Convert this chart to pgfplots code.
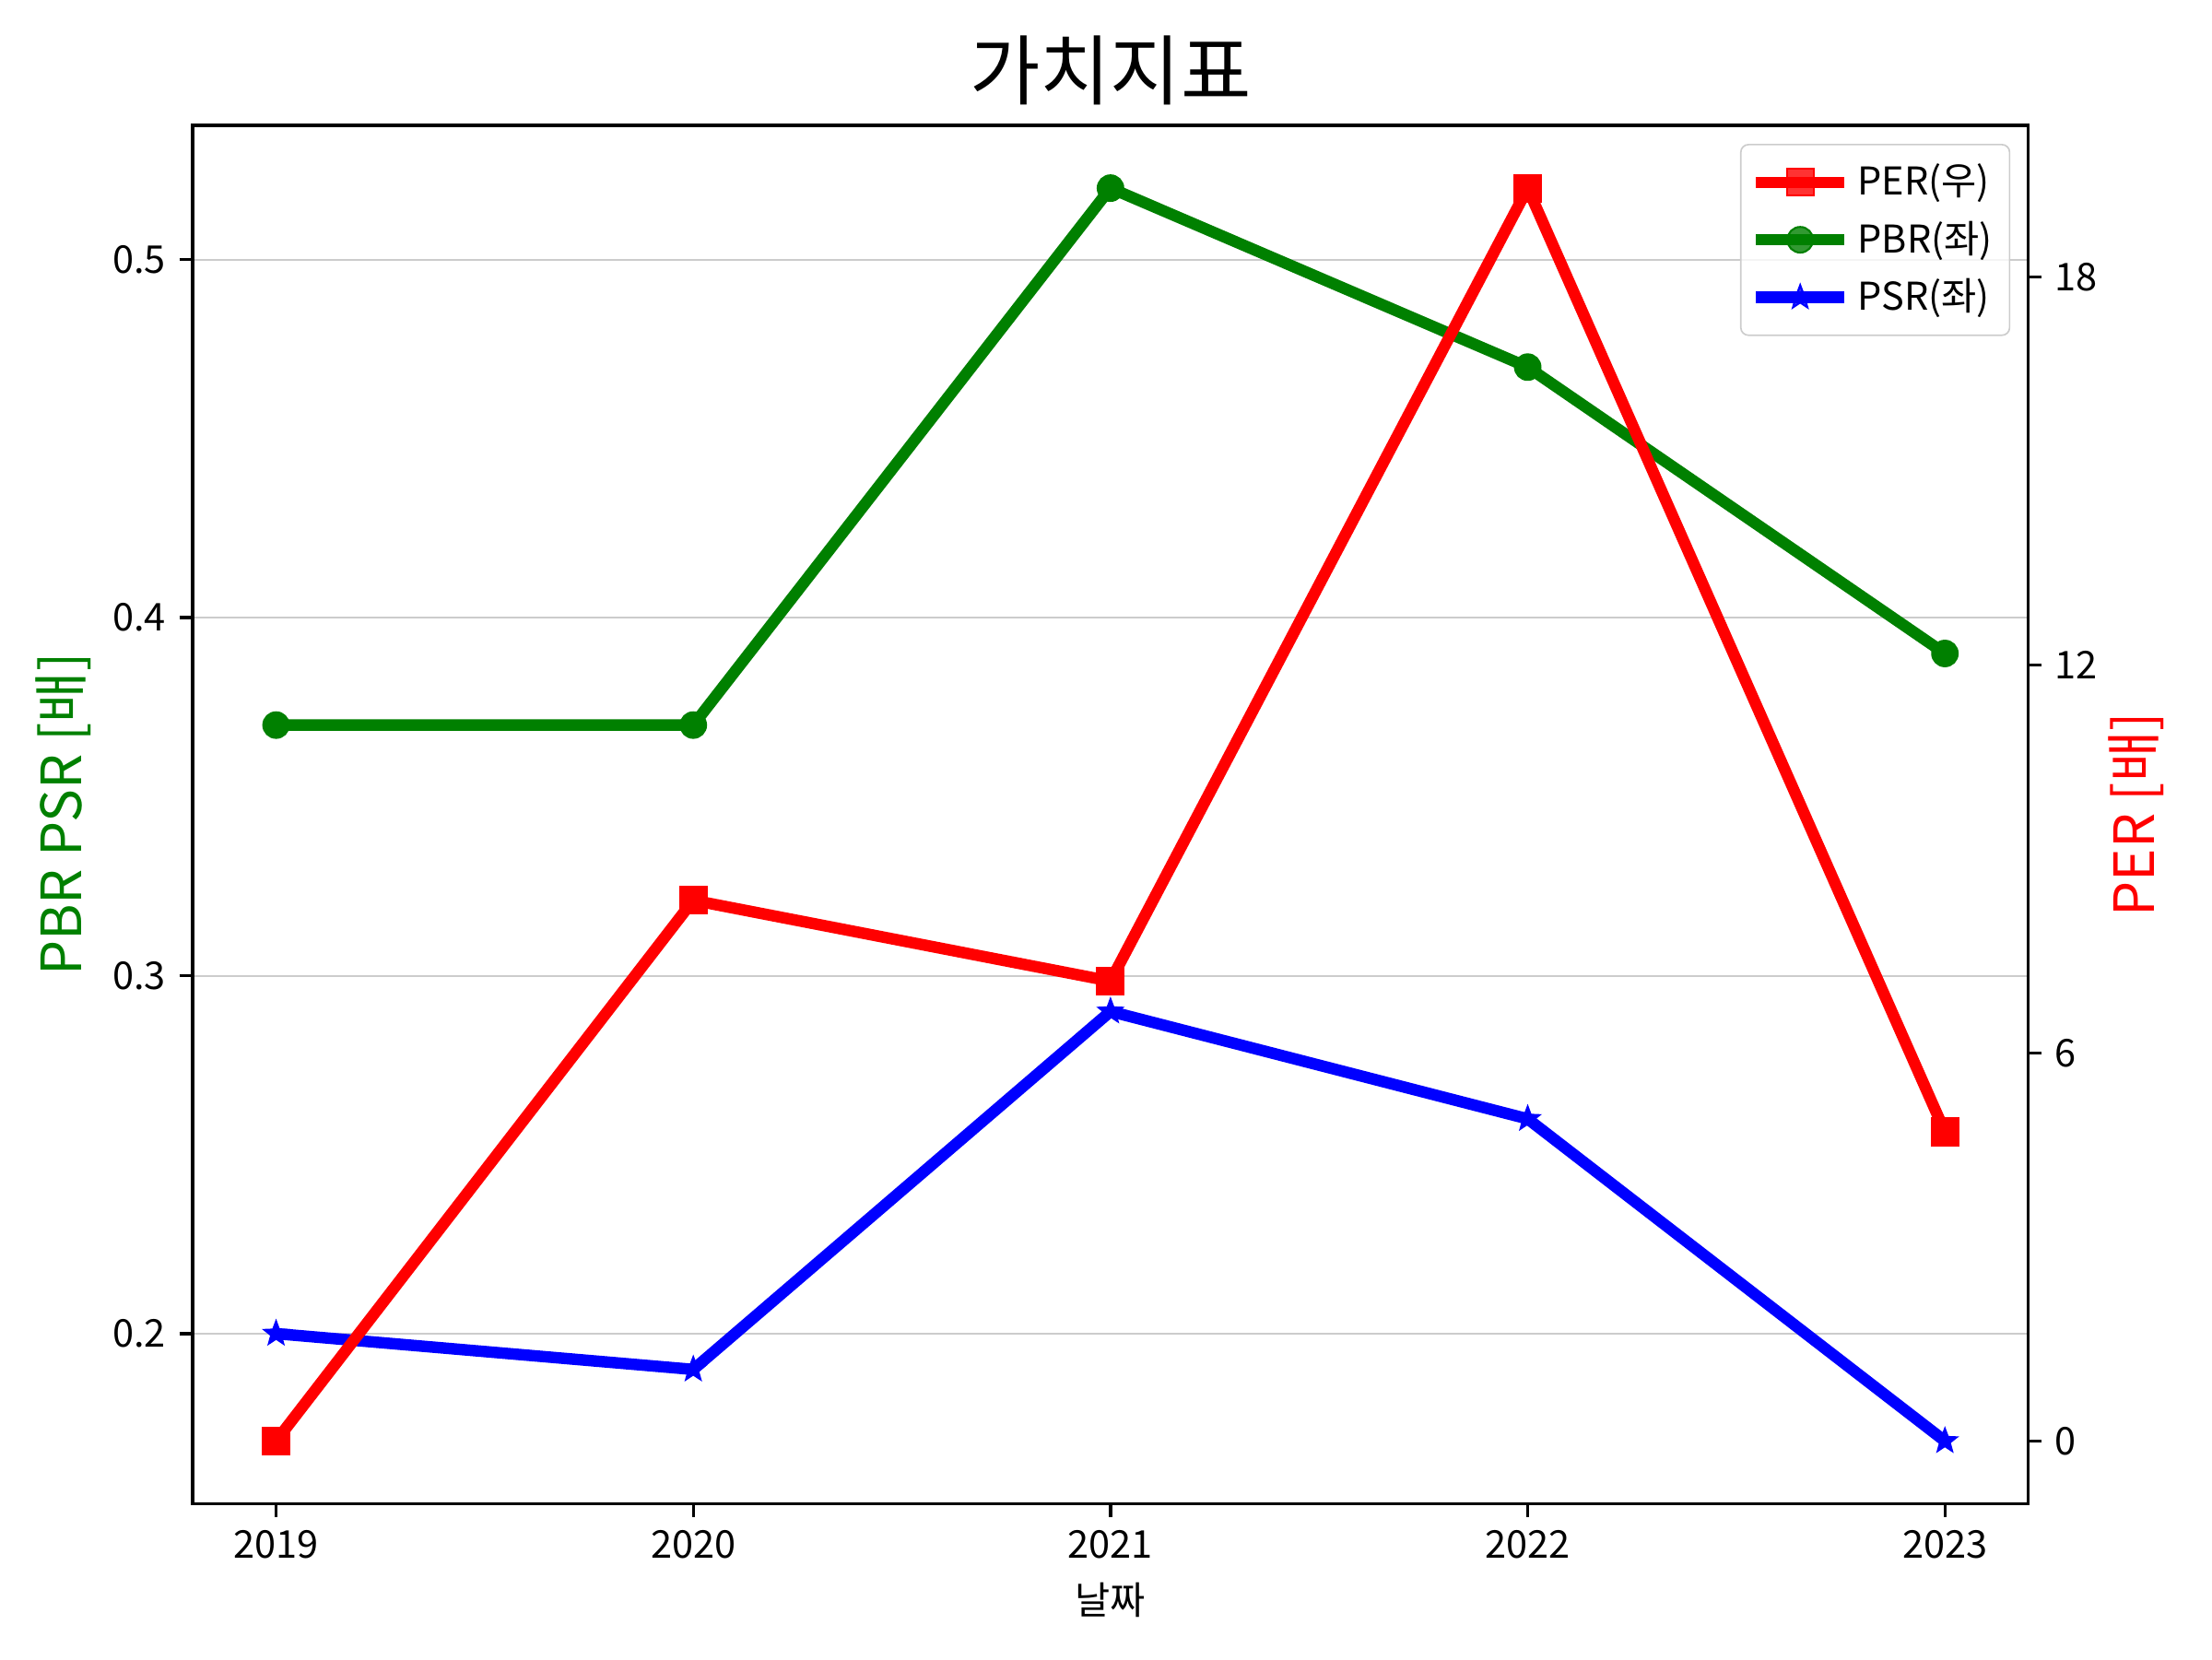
\documentclass[border=0pt]{standalone}
\usepackage{fontspec}
\setmainfont{Noto Sans CJK KR}
\usepackage{pgfplots}
\pgfplotsset{compat=1.18}
\definecolor{mplred}{RGB}{255,0,0}
\definecolor{mplgreen}{RGB}{0,128,0}
\definecolor{mplblue}{RGB}{0,0,255}
\pgfdeclareplotmark{fstar}{%
  \pgfpathmoveto{\pgfpointpolar{90}{\pgfplotmarksize}}%
  \pgfpathlineto{\pgfpointpolar{126}{0.42\pgfplotmarksize}}%
  \pgfpathlineto{\pgfpointpolar{162}{\pgfplotmarksize}}%
  \pgfpathlineto{\pgfpointpolar{198}{0.42\pgfplotmarksize}}%
  \pgfpathlineto{\pgfpointpolar{234}{\pgfplotmarksize}}%
  \pgfpathlineto{\pgfpointpolar{270}{0.42\pgfplotmarksize}}%
  \pgfpathlineto{\pgfpointpolar{306}{\pgfplotmarksize}}%
  \pgfpathlineto{\pgfpointpolar{342}{0.42\pgfplotmarksize}}%
  \pgfpathlineto{\pgfpointpolar{18}{\pgfplotmarksize}}%
  \pgfpathlineto{\pgfpointpolar{54}{0.42\pgfplotmarksize}}%
  \pgfpathclose\pgfusepathqfillstroke}
\pgfplotsset{
  common/.style={
    scale only axis, width=479.8pt, height=360.2pt,
    xmin=2018.8, xmax=2023.2,
    tick align=outside, major tick length=3.5pt,
    every tick/.style={black, line width=0.8pt},
    axis line style={line width=0.8pt},
    ticklabel style={font=\fontsize{10}{12}\selectfont},
    /pgf/number format/assume math mode=true,
  },
}
\begin{document}
\begin{tikzpicture}
\path[use as bounding box] (-50.35pt,-40.7pt) rectangle (527.8pt,393.0pt);
\begin{axis}[common,
  ymin=0.1525, ymax=0.5375,
  xtick={2019,2020,2021,2022,2023},
  xticklabel style={/pgf/number format/1000 sep={}},
  xtick pos=bottom, ytick pos=left,
  ytick={0.2,0.3,0.4,0.5},
  yticklabel style={/pgf/number format/fixed, /pgf/number format/precision=1, /pgf/number format/fixed zerofill},
  ymajorgrids, grid style={line width=0.5pt, color=black!20},
  title={가치지표},
  title style={font=\fontsize{20}{24}\selectfont, at={(axis description cs:0.5,1)}, anchor=center, yshift=8.3pt},
  xlabel={날짜},
  xlabel style={font=\fontsize{10}{12}\selectfont, at={(axis description cs:0.5,0)}, anchor=center, yshift=-25.2pt},
  ylabel={PBR PSR [배]},
  every axis y label/.style={font=\fontsize{14.5}{17}\selectfont, text=mplgreen, at={(axis description cs:-0.0702,0.5)}, anchor=center, rotate=90},
]
\addplot[mplgreen, line width=3pt, mark=*, mark size=3.35pt, mark options={solid, line width=0.5pt}]
  coordinates {(2019,0.37) (2020,0.37) (2021,0.52) (2022,0.47) (2023,0.39)};
\addplot[mplblue, line width=3pt, mark=fstar, mark size=3.2pt, mark options={solid, line width=0.5pt}]
  coordinates {(2019,0.20) (2020,0.19) (2021,0.29) (2022,0.26) (2023,0.17)};
\end{axis}
\begin{axis}[common,
  ymin=-0.97, ymax=20.34,
  axis x line=none, axis y line*=right,
  ytick={0,6,12,18},
  ylabel={PER [배]},
  every axis y label/.style={font=\fontsize{14.5}{17}\selectfont, text=mplred, at={(axis description cs:1.0588,0.5)}, anchor=center, rotate=90},
  legend cell align=left,
  legend style={at={(axis description cs:1,1)}, anchor=north east, xshift=-4.7pt, yshift=-4.8pt,
    draw=black!20, fill=white, fill opacity=0.8, text opacity=1, rounded corners=2pt,
    font=\fontsize{10}{12}\selectfont, row sep=1.3pt, inner xsep=2.5pt, inner ysep=3pt},
  legend image code/.code={\draw[mark repeat=2, mark phase=2] plot coordinates {(0cm,0cm) (0.405cm,0cm) (0.81cm,0cm)};},
]
\addplot[mplred, line width=3pt, mark=square*, mark size=3.5pt, mark options={solid, line width=0.5pt}]
  coordinates {(2019,0) (2020,8.36) (2021,7.11) (2022,19.37) (2023,4.78)};
\addlegendentry{PER(우)}
\addlegendimage{mplgreen, line width=3pt, mark=*, mark size=3.35pt, mark options={solid, line width=0.5pt}}
\addlegendentry{PBR(좌)}
\addlegendimage{mplblue, line width=3pt, mark=fstar, mark size=3.2pt, mark options={solid, line width=0.5pt}}
\addlegendentry{PSR(좌)}
\end{axis}
\end{tikzpicture}
\end{document}
